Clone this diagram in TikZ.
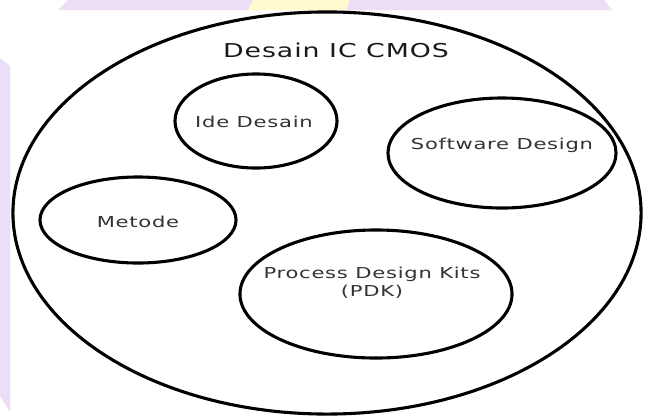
\documentclass[tikz,border=0pt]{standalone}
\usepackage{fontspec}
\usetikzlibrary{shapes.geometric}
\newfontfamily\diagfont[FakeStretch=1.4,LetterSpace=5]{DejaVu Sans}
\definecolor{lavender}{RGB}{237,222,247}
\definecolor{paleyellow}{RGB}{255,251,206}
\def \Lw {2.2pt}
\tikzstyle{bubble}=[
  draw=black,
  ellipse,
  line width=\Lw,
  inner sep=0pt
]
\tikzstyle{caption}=[
  anchor=base,
  inner sep=0pt,
  text=black!80,
  font=\diagfont\fontsize{10.7}{12.8}\selectfont
]

\begin{document}
\begin{tikzpicture}[x=0.025cm,y=-0.025cm]
          \useasboundingbox[fill=white] (0,0) rectangle (650,416);

          % coloured strips along the top and left edge
          \fill[lavender] (58,10) -- (68,0) -- (253,0) -- (248,10) -- cycle;
          \fill[paleyellow] (248,10) -- (253,0) -- (350,0) -- (346,10) -- cycle;
          \fill[lavender] (346,10) -- (350,0) -- (604,0) -- (612,10) -- cycle;
          \fill[lavender] (0,58) -- (10,66) -- (10,412) -- (0,396) -- cycle;

          \node[bubble, minimum width=15.7cm, minimum height=10.05cm] (cmos) at (327,213) {};
          \node[bubble, minimum width=4.05cm, minimum height=2.35cm] (ide) at (256,121) {};
          \node[bubble, minimum width=5.7cm, minimum height=2.75cm] (software) at (502,153) {};
          \node[bubble, minimum width=4.9cm, minimum height=2.15cm] (metode) at (138,220) {};
          \node[bubble, minimum width=6.8cm, minimum height=3.2cm] (pdk) at (376,294) {};

          \node[caption, text=black!90, font=\diagfont\fontsize{13.6}{16}\selectfont] (cmosText) at (336,57) {Desain IC CMOS};
          \node[caption] (ideText) at (254,127) {Ide Desain};
          \node[caption] (softwareText) at (502,149) {Software Design};
          \node[caption] (metodeText) at (138,227) {Metode};
          \node[caption, anchor=center, align=center] (pdkText) at (372,283) {Process Design Kits\\(PDK)};
        \end{tikzpicture}
\end{document}
